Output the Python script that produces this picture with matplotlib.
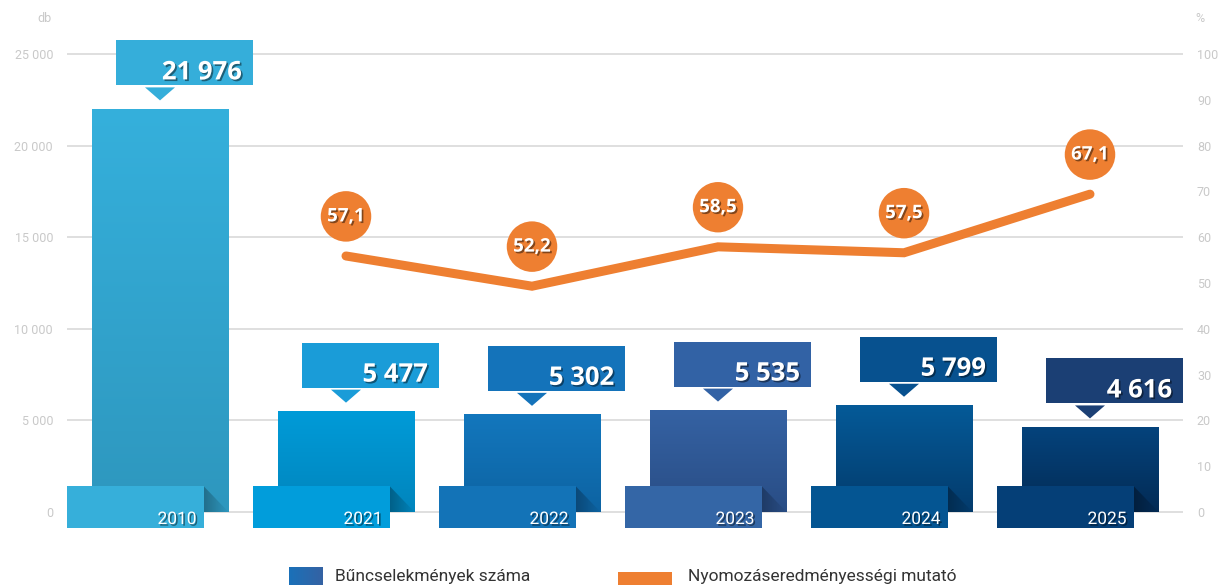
import matplotlib
matplotlib.use('Agg')
import matplotlib.pyplot as plt
import numpy as np
from matplotlib.patches import Rectangle, Polygon
import matplotlib.patheffects as pe
from matplotlib.colors import LinearSegmentedColormap

# ---------------- data ----------------
years = ['2010', '2021', '2022', '2023', '2024', '2025']
crimes = [21976, 5477, 5302, 5535, 5799, 4616]
crime_labels = ['21 976', '5 477', '5 302', '5 535', '5 799', '4 616']
rate_years = ['2021', '2022', '2023', '2024', '2025']
rate_values = [55.9, 49.3, 57.9, 56.6, 69.4]      # as drawn
rate_labels = ['57,1', '52,2', '58,5', '57,5', '67,1']
left_ticks = [0, 5000, 10000, 15000, 20000, 25000]
left_tick_labels = ['0', '5 000', '10 000', '15 000', '20 000', '25 000']
right_ticks = [0, 10, 20, 30, 40, 50, 60, 70, 80, 90, 100]
right_tick_labels = [str(t) for t in right_ticks]
legend_labels = ['Bűncselekmények száma', 'Nyomozáseredményességi mutató']

# ---------------- style ----------------
box_colors = ['#35AEDA', '#1A9CD8', '#1473BA', '#3262A5', '#07518F', '#1B3F74']
bar_top = ['#35B0DC', '#009BD8', '#1377BD', '#3562A3', '#055A98', '#05437C']
bar_bot = ['#2E97BE', '#0085BD', '#0D63A2', '#294D85', '#033B6C', '#032B55']
tab_colors = ['#36AFDA', '#019DDB', '#1373B7', '#3466A6', '#045592', '#053F77']
fold_dark = ['#226F8C', '#006088', '#0B4978', '#1F3B66', '#022C50', '#021F3E']
orange = '#EE7F31'
tick_color = '#C9C9C9'

W, H = 1218, 585
fig = plt.figure(figsize=(W / 100, H / 100), dpi=100)
ax = fig.add_axes([67 / W, 73 / H, 1116 / W, 458 / H])
ax.set_xlim(-0.5, len(years) - 0.5)
ax.set_ylim(0, 25000)
PX = 1.0 / 186.0        # x data per pixel
PY = 25000.0 / 458.0    # y data per pixel
bw = 137 * PX

grad_v = np.linspace(0, 1, 256).reshape(-1, 1)
grad_h = np.linspace(0, 1, 256).reshape(1, -1)

# gridlines
for t in left_ticks:
    ax.hlines(t, -0.5, len(years) - 0.5, color='#DCDCDC', lw=1.3, zorder=1, clip_on=False)

shadow = [pe.withSimplePatchShadow(offset=(1.2, -1.2), shadow_rgbFace='#000000', alpha=0.45)]

for i, (yr, val, lab) in enumerate(zip(years, crimes, crime_labels)):
    x0, x1 = i - bw / 2, i + bw / 2
    cmap = LinearSegmentedColormap.from_list('g%d' % i, [bar_bot[i], bar_top[i]])
    ax.imshow(grad_v, extent=[x0, x1, 0, val], origin='lower', aspect='auto',
              cmap=cmap, interpolation='bicubic', zorder=2, clip_on=False)
    # tab
    tx0 = x0 - 25 * PX
    tx1 = x1 - 25 * PX
    ax.add_patch(Rectangle((tx0, -16 * PY), bw, 42 * PY, fc=tab_colors[i], ec='none',
                           zorder=4, clip_on=False))
    # fold triangle
    tri = Polygon([(tx1, 26 * PY), (x1, 0), (tx1, 0)], closed=True, fc='none', ec='none')
    ax.add_patch(tri)
    cmapf = LinearSegmentedColormap.from_list('f%d' % i, [fold_dark[i], bar_bot[i]])
    im = ax.imshow(grad_h, extent=[tx1, x1, 0, 26 * PY], origin='lower', aspect='auto',
                   cmap=cmapf, interpolation='bicubic', zorder=3.5, clip_on=True)
    im.set_clip_path(tri)
    ax.text(tx1 - 7 * PX, -12 * PY, yr, ha='right', va='baseline', color='white',
            fontsize=12.5, family='Roboto', zorder=5, path_effects=shadow)
    # value box
    bx0 = x0 + 24 * PX
    bb = val + 24 * PY
    ax.add_patch(Rectangle((bx0, bb), bw, 45 * PY, fc=box_colors[i], ec='none',
                           zorder=4, clip_on=False))
    ax.add_patch(Polygon([(i - 15 * PX, val + 22 * PY), (i + 15 * PX, val + 22 * PY),
                          (i, val + 9 * PY)], closed=True, fc=box_colors[i], ec='none',
                         zorder=4, clip_on=False))
    ax.text(bx0 + bw - 10 * PX, bb + 6 * PY, lab, ha='right', va='baseline',
            color='white', fontsize=18.5, fontweight='bold', family='Open Sans',
            zorder=5, path_effects=shadow)

ax.set_xticks([])
ax.set_yticks(left_ticks)
ax.set_yticklabels(left_tick_labels)
ax.tick_params(axis='y', length=0, pad=10, labelsize=9, labelcolor=tick_color)
for lbl in ax.get_yticklabels():
    lbl.set_family('Roboto')
for s in ax.spines.values():
    s.set_visible(False)

ax2 = ax.twinx()
ax2.set_ylim(0, 100)
xs = [years.index(y) for y in rate_years]
ax2.plot(xs, rate_values, color=orange, lw=6.5, solid_capstyle='round',
         solid_joinstyle='miter', zorder=3)
for x, v, lab in zip(xs, rate_values, rate_labels):
    ax2.annotate(lab, (x, v), xytext=(0, 28.5), textcoords='offset points',
                 ha='center', va='center', color='white', fontsize=13.5,
                 fontweight='bold', family='Open Sans', path_effects=shadow,
                 bbox=dict(boxstyle='circle,pad=0.34', fc=orange, ec='none'), zorder=6)
ax2.set_yticks(right_ticks)
ax2.set_yticklabels(right_tick_labels)
ax2.tick_params(axis='y', length=0, pad=10, labelsize=9, labelcolor=tick_color)
for lbl in ax2.get_yticklabels():
    lbl.set_family('Roboto')
ax2.set_xticks([])
for s in ax2.spines.values():
    s.set_visible(False)

fig.text(44 / W, 1 - 18 / H, 'db', ha='center', va='center', color=tick_color,
         fontsize=9, family='Roboto')
fig.text(1200 / W, 1 - 18 / H, '%', ha='center', va='center', color=tick_color,
         fontsize=9, family='Roboto')

# legend
lax = fig.add_axes([289 / W, 0, 34 / W, 18 / H])
lax.imshow(grad_h, cmap=LinearSegmentedColormap.from_list('lg', ['#1A71B9', '#3562A3']),
           aspect='auto', extent=[0, 1, 0, 1])
lax.axis('off')
fig.patches.append(Rectangle((618 / W, 0), 54 / W, 13 / H, fc=orange, ec='none',
                             transform=fig.transFigure, figure=fig))
fig.text(335 / W, 1 - 577 / H, legend_labels[0], ha='left', va='center', color='#333333',
         fontsize=12.5, family='Roboto')
fig.text(688 / W, 1 - 577 / H, legend_labels[1], ha='left', va='center', color='#333333',
         fontsize=12.5, family='Roboto')

fig.savefig('out.png', dpi=100)
